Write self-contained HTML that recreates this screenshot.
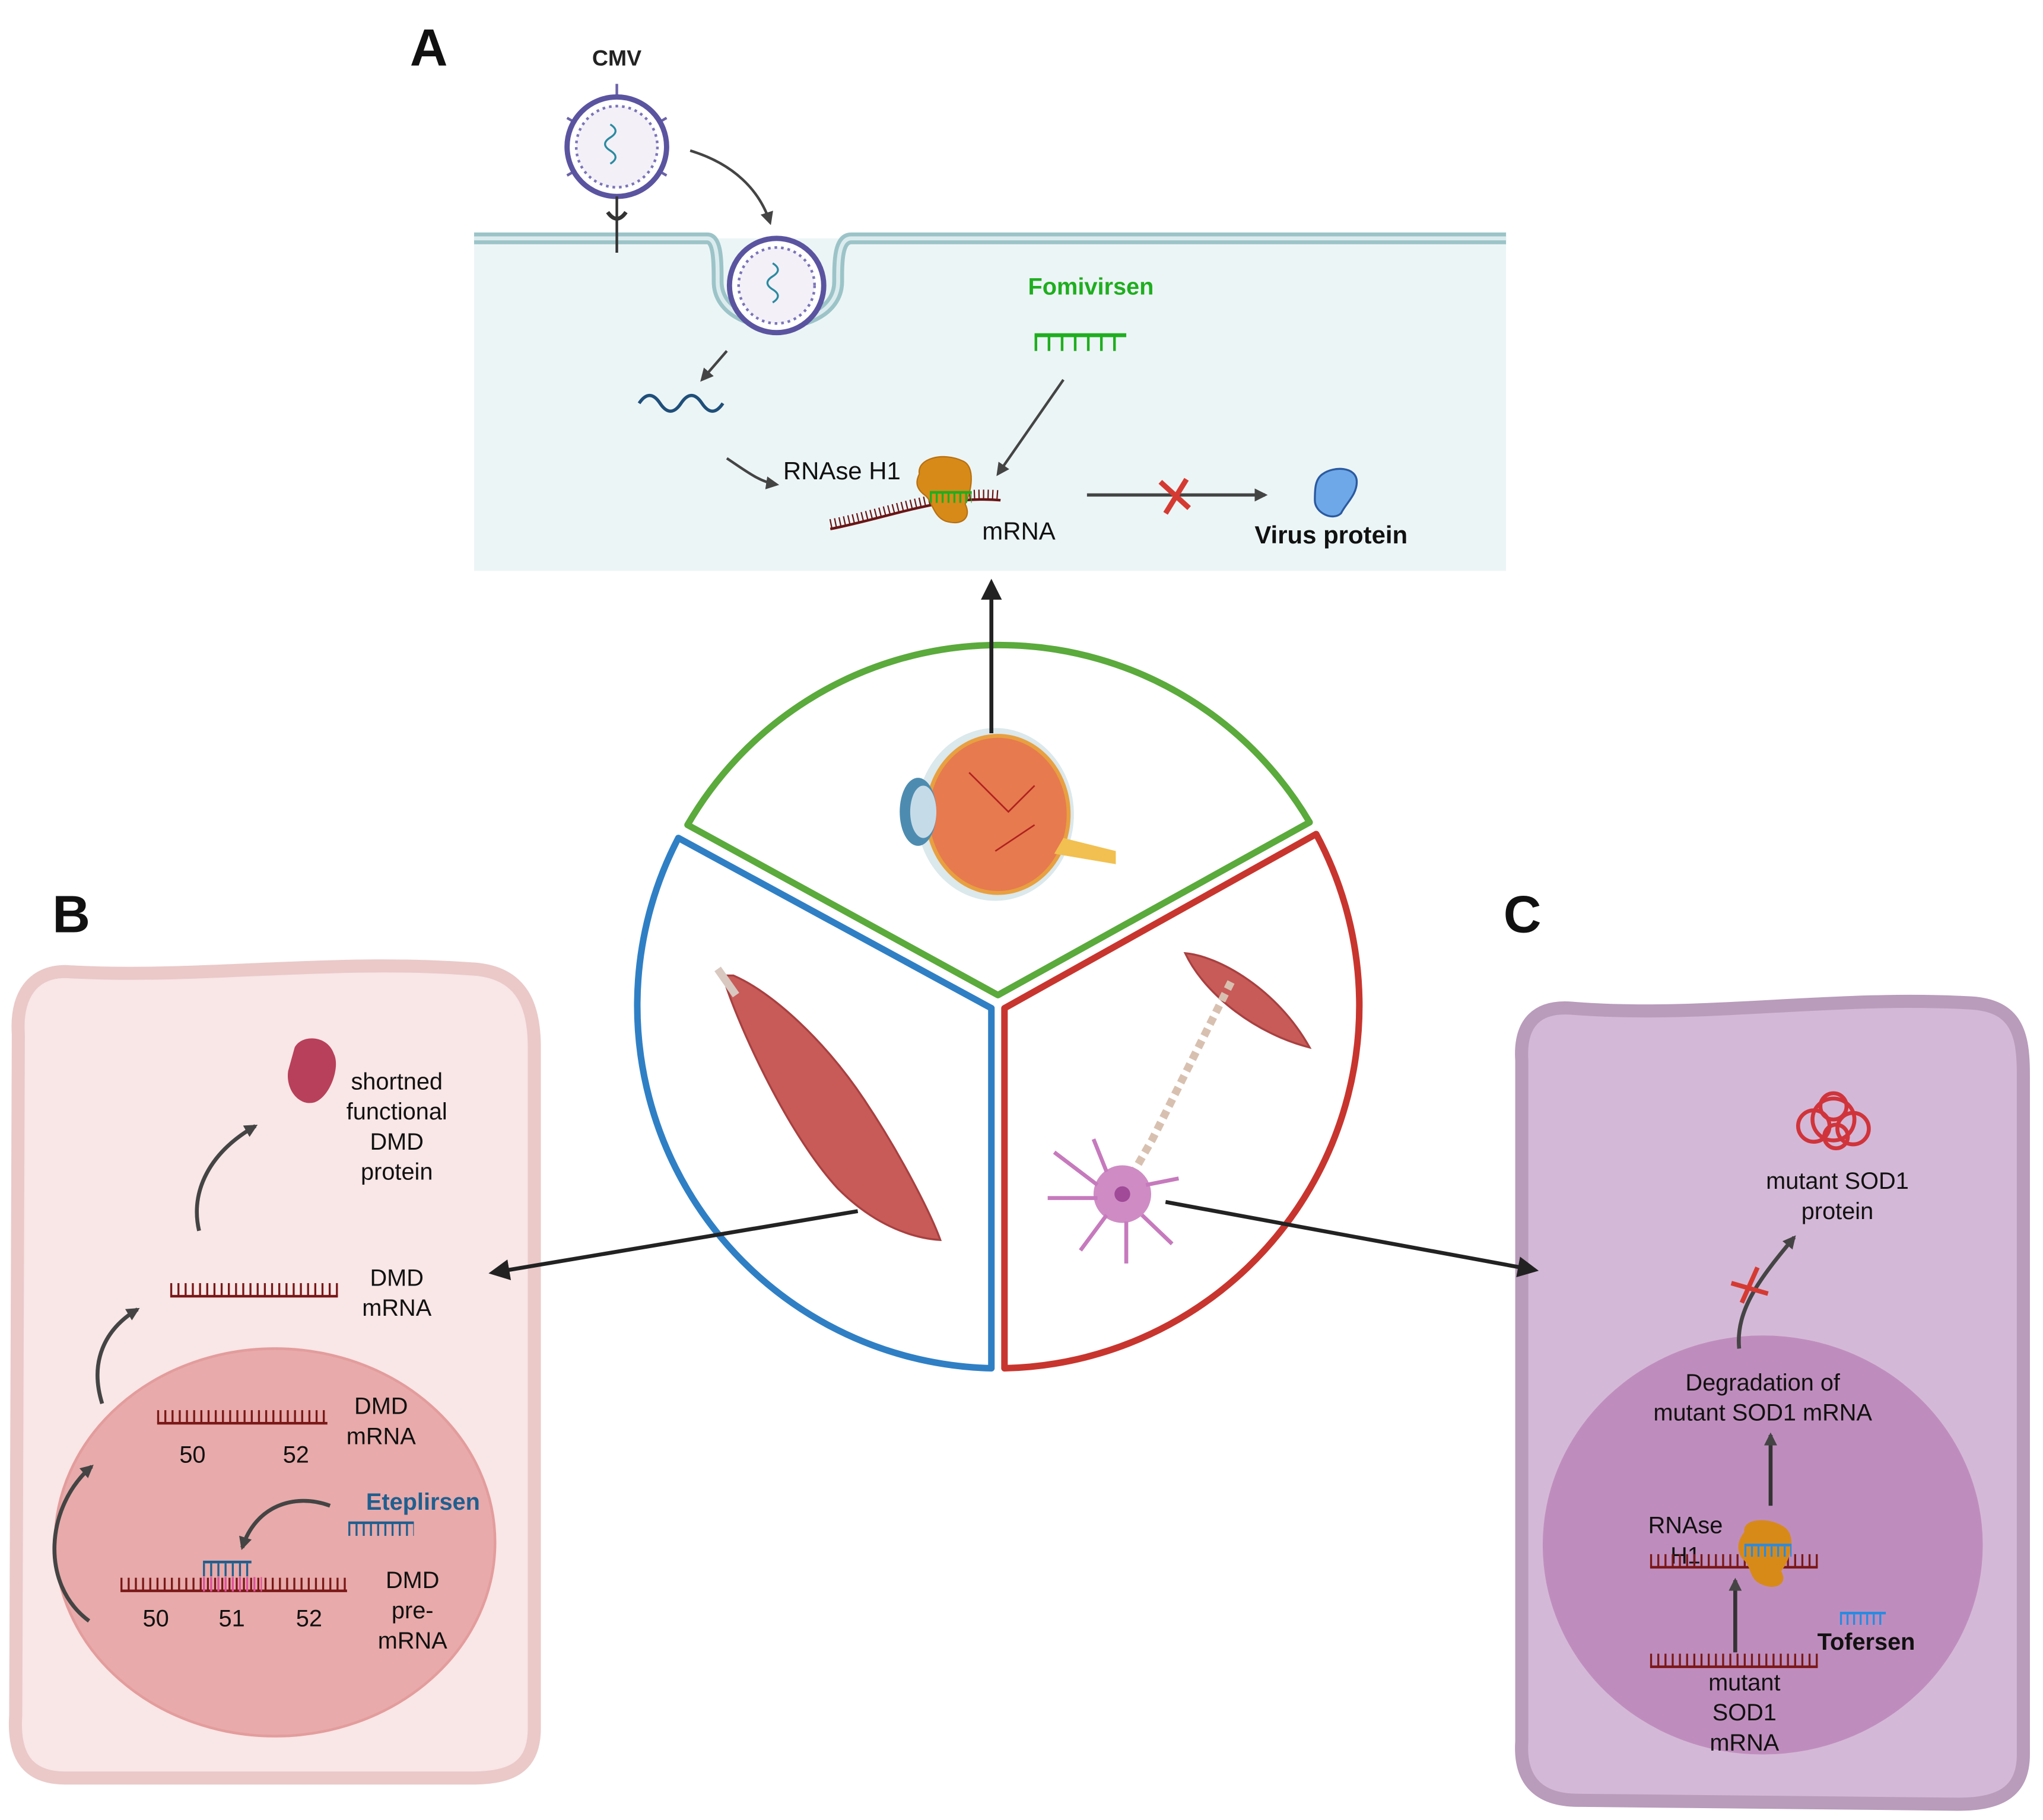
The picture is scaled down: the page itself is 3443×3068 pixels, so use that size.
<!DOCTYPE html>
<html><head><meta charset="utf-8"><style>
html,body{margin:0;padding:0;background:#fff}
svg{display:block}
text{font-family:"Liberation Sans",Arial,sans-serif}
</style></head><body>
<svg width="3443" height="3068" viewBox="0 0 1560 1390" xmlns="http://www.w3.org/2000/svg">
<defs>
<marker id="ahg" markerWidth="10" markerHeight="10" refX="8" refY="5" orient="auto" markerUnits="userSpaceOnUse"><path d="M0,0 L10,5 L0,10 z" fill="#444"/></marker>
<marker id="ahb" markerWidth="16" markerHeight="16" refX="13" refY="8" orient="auto" markerUnits="userSpaceOnUse"><path d="M0,0 L16,8 L0,16 z" fill="#222"/></marker>
</defs>

<!-- Panel A -->
<text x="313" y="50" font-size="40" font-weight="bold" fill="#111">A</text>
<rect x="362" y="182" width="788" height="254" fill="#ecf5f6"/>
<path d="M362,182 H540 C548,182 548,200 548,215 C548,258 640,258 640,215 C640,200 640,182 650,182 H1150" fill="none" stroke="#9cc4c8" stroke-width="9"/>
<path d="M362,182 H540 C548,182 548,200 548,215 C548,258 640,258 640,215 C640,200 640,182 650,182 H1150" fill="none" stroke="#dcecee" stroke-width="3"/>
<text x="471" y="50" font-size="17" font-weight="bold" text-anchor="middle" fill="#222">CMV</text>
<g stroke="#6a62a8" stroke-width="2">
<line x1="471" y1="64" x2="471" y2="150"/><line x1="433" y1="90" x2="509" y2="134"/><line x1="509" y1="90" x2="433" y2="134"/>
</g>
<circle cx="471" cy="112" r="38" fill="#fff" stroke="#5a54a0" stroke-width="4"/>
<circle cx="471" cy="112" r="31" fill="#f3f0f8" stroke="#7a74b8" stroke-width="2" stroke-dasharray="2 3"/>
<path d="M466,95 q8,5 0,10 q-8,5 0,10 q8,5 0,10" fill="none" stroke="#2a8aa0" stroke-width="1.5"/>
<line x1="471" y1="150" x2="471" y2="193" stroke="#333" stroke-width="2"/>
<path d="M464,162 q7,10 14,0" fill="none" stroke="#333" stroke-width="3"/>
<circle cx="593" cy="218" r="36" fill="#fff" stroke="#5a54a0" stroke-width="4"/>
<circle cx="593" cy="218" r="29" fill="#f3f0f8" stroke="#7a74b8" stroke-width="2" stroke-dasharray="2 3"/>
<path d="M590,201 q8,5 0,10 q-8,5 0,10 q8,5 0,10" fill="none" stroke="#2a8aa0" stroke-width="1.5"/>
<path d="M527,115 C560,125 580,145 588,170" fill="none" stroke="#444" stroke-width="2" marker-end="url(#ahg)"/>
<path d="M555,268 L536,290" fill="none" stroke="#444" stroke-width="2" marker-end="url(#ahg)"/>
<path d="M488,308 q8,-12 16,0 q8,12 16,0 q8,-12 16,0 q8,12 16,0" fill="none" stroke="#1f4f7a" stroke-width="2.5"/>
<path d="M555,350 C570,360 580,368 593,370" fill="none" stroke="#444" stroke-width="2" marker-end="url(#ahg)"/>
<text x="598" y="366" font-size="19" fill="#111">RNAse H1</text>
<text x="750" y="412" font-size="19" fill="#111">mRNA</text>
<text x="833" y="225" font-size="18" font-weight="bold" text-anchor="middle" fill="#1fae1f">Fomivirsen</text>
<line x1="790" y1="256" x2="860" y2="256" stroke="#1fae1f" stroke-width="3"/>
<line x1="790" y1="262" x2="860" y2="262" stroke="#1fae1f" stroke-width="12" stroke-dasharray="2 8"/>
<line x1="812" y1="290" x2="762" y2="362" stroke="#444" stroke-width="2" marker-end="url(#ahg)"/>
<path d="M634,404 C680,395 720,378 764,382" fill="none" stroke="#6a1414" stroke-width="2"/>
<path d="M634,400 C680,391 720,374 764,378" fill="none" stroke="#6a1414" stroke-width="7" stroke-dasharray="1 2.5"/>
<path d="M702,362 C700,350 720,345 735,352 C745,356 742,375 737,385 C742,395 735,402 722,398 C712,394 712,382 706,378 C698,372 700,366 702,362 z" fill="#d88a18" stroke="#b87010" stroke-width="1"/>
<line x1="710" y1="376" x2="742" y2="376" stroke="#1fae1f" stroke-width="2"/>
<line x1="710" y1="380" x2="742" y2="380" stroke="#1fae1f" stroke-width="8" stroke-dasharray="1.5 3"/>
<line x1="830" y1="378" x2="966" y2="378" stroke="#444" stroke-width="2.5" marker-end="url(#ahg)"/>
<path d="M886,368 L908,388 M906,366 L890,392" stroke="#d53a32" stroke-width="4"/>
<path d="M1010,362 C1018,356 1036,356 1036,368 C1036,378 1028,384 1024,392 C1018,398 1004,392 1004,382 C1004,374 1004,366 1010,362 z" fill="#6ea8e8" stroke="#2a5aa0" stroke-width="1.5"/>
<text x="958" y="415" font-size="19" font-weight="bold" fill="#111">Virus protein</text>

<!-- Center circle -->
<path d="M525,630 A275,275 0 0 1 1000,628 L762,760 Z" fill="none" stroke="#5aaa3c" stroke-width="5" stroke-linejoin="round"/>
<path d="M518,640 L757,770 L757,1045 A277,277 0 0 1 518,640 Z" fill="none" stroke="#2f7fc5" stroke-width="5" stroke-linejoin="round"/>
<path d="M1005,637 L767,770 L767,1045 A277,277 0 0 0 1005,637 Z" fill="none" stroke="#c8352e" stroke-width="5" stroke-linejoin="round"/>
<!-- eye -->
<ellipse cx="760" cy="622" rx="60" ry="66" fill="#dbe8ec"/>
<ellipse cx="762" cy="622" rx="54" ry="60" fill="#e77a4e" stroke="#e8a040" stroke-width="3"/>
<path d="M812,640 L852,650 L852,660 L805,652 Z" fill="#f2c050"/>
<ellipse cx="701" cy="620" rx="14" ry="26" fill="#4d8cb0"/>
<ellipse cx="705" cy="620" rx="10" ry="20" fill="#c6dbe8"/>
<path d="M740,590 l30,30 l20,-20 M760,650 l30,-20" stroke="#b02020" stroke-width="1.2" fill="none"/>
<line x1="757" y1="560" x2="757" y2="445" stroke="#222" stroke-width="3" marker-end="url(#ahb)"/>
<!-- muscle -->
<path d="M552,745 C560,775 600,865 640,908 C670,938 700,946 718,947 C712,930 690,885 660,840 C630,795 590,758 560,745 Z" fill="#c85a58" stroke="#a84040" stroke-width="1.5"/>
<path d="M548,740 L562,760" stroke="#d8c8c0" stroke-width="6"/>
<!-- neuron & muscle -->
<path d="M905,728 C930,730 975,755 1000,800 C960,790 920,760 905,728 Z" fill="#c85a58" stroke="#a84040" stroke-width="1.5"/>
<path d="M940,750 L920,790 L900,830 L880,870 L860,905" stroke="#d8c0b0" stroke-width="6" fill="none" stroke-dasharray="6 4"/>
<circle cx="857" cy="912" r="22" fill="#cf8cc4"/>
<circle cx="857" cy="912" r="6" fill="#a04a98"/>
<g stroke="#c67abd" stroke-width="3" fill="none">
<path d="M838,905 L805,880 M838,915 L800,915 M845,928 L825,955 M860,933 L860,965 M872,928 L895,950 M875,905 L900,900 M845,895 L835,870"/>
</g>

<!-- Panel B -->
<text x="40" y="712" font-size="40" font-weight="bold" fill="#111">B</text>
<path d="M50,742 C150,748 250,732 360,740 C400,742 408,770 408,800 L408,1320 C408,1350 390,1358 360,1358 L50,1358 C20,1358 10,1340 12,1310 L14,790 C12,760 25,742 50,742 Z" fill="#f9e6e6" stroke="#ebc9c9" stroke-width="10"/>
<ellipse cx="210" cy="1178" rx="168" ry="148" fill="#e8aaaa" stroke="#e39c9c" stroke-width="2"/>
<path d="M225,800 C230,790 250,790 255,805 C260,815 252,838 240,842 C228,845 218,832 220,818 Z" fill="#b8405a"/>
<text x="303" y="832" font-size="18" text-anchor="middle" fill="#111">shortned</text>
<text x="303" y="855" font-size="18" text-anchor="middle" fill="#111">functional</text>
<text x="303" y="878" font-size="18" text-anchor="middle" fill="#111">DMD</text>
<text x="303" y="901" font-size="18" text-anchor="middle" fill="#111">protein</text>
<path d="M152,940 C145,910 160,880 195,860" fill="none" stroke="#444" stroke-width="3" marker-end="url(#ahg)"/>
<line x1="130" y1="990" x2="258" y2="990" stroke="#7a1818" stroke-width="2"/>
<line x1="130" y1="985" x2="258" y2="985" stroke="#7a1818" stroke-width="10" stroke-dasharray="1.5 4"/>
<text x="303" y="982" font-size="18" text-anchor="middle" fill="#111">DMD</text>
<text x="303" y="1005" font-size="18" text-anchor="middle" fill="#111">mRNA</text>
<path d="M78,1072 C68,1040 80,1015 105,1000" fill="none" stroke="#444" stroke-width="3" marker-end="url(#ahg)"/>
<line x1="120" y1="1087" x2="250" y2="1087" stroke="#7a1818" stroke-width="2"/>
<line x1="120" y1="1082" x2="250" y2="1082" stroke="#7a1818" stroke-width="10" stroke-dasharray="1.5 4"/>
<text x="147" y="1117" font-size="18" text-anchor="middle" fill="#111">50</text>
<text x="226" y="1117" font-size="18" text-anchor="middle" fill="#111">52</text>
<text x="291" y="1080" font-size="18" text-anchor="middle" fill="#111">DMD</text>
<text x="291" y="1103" font-size="18" text-anchor="middle" fill="#111">mRNA</text>
<path d="M68,1238 C30,1210 35,1150 70,1120" fill="none" stroke="#444" stroke-width="3" marker-end="url(#ahg)"/>
<text x="323" y="1153" font-size="18" font-weight="bold" text-anchor="middle" fill="#1f5f8f">Eteplirsen</text>
<line x1="266" y1="1163" x2="316" y2="1163" stroke="#1f5f8f" stroke-width="2"/>
<line x1="266" y1="1168" x2="316" y2="1168" stroke="#1f5f8f" stroke-width="10" stroke-dasharray="1.5 4"/>
<path d="M252,1150 C225,1140 195,1150 185,1182" fill="none" stroke="#444" stroke-width="3" marker-end="url(#ahg)"/>
<line x1="155" y1="1193" x2="192" y2="1193" stroke="#1f5f8f" stroke-width="2"/>
<line x1="155" y1="1199" x2="192" y2="1199" stroke="#1f5f8f" stroke-width="10" stroke-dasharray="1.5 4"/>
<line x1="92" y1="1215" x2="265" y2="1215" stroke="#7a1818" stroke-width="2"/>
<line x1="92" y1="1210" x2="265" y2="1210" stroke="#7a1818" stroke-width="10" stroke-dasharray="1.5 4"/>
<line x1="155" y1="1210" x2="200" y2="1210" stroke="#e0509a" stroke-width="11" stroke-dasharray="1.5 4"/>
<text x="119" y="1242" font-size="18" text-anchor="middle" fill="#111">50</text>
<text x="177" y="1242" font-size="18" text-anchor="middle" fill="#111">51</text>
<text x="236" y="1242" font-size="18" text-anchor="middle" fill="#111">52</text>
<text x="315" y="1213" font-size="18" text-anchor="middle" fill="#111">DMD</text>
<text x="315" y="1236" font-size="18" text-anchor="middle" fill="#111">pre-</text>
<text x="315" y="1259" font-size="18" text-anchor="middle" fill="#111">mRNA</text>

<!-- Panel C -->
<text x="1148" y="712" font-size="40" font-weight="bold" fill="#111">C</text>
<path d="M1200,770 C1300,778 1400,760 1505,766 C1540,768 1545,790 1545,820 L1545,1340 C1545,1370 1525,1378 1495,1378 L1205,1375 C1175,1375 1160,1360 1162,1330 L1162,810 C1160,780 1175,768 1200,770 Z" fill="#d4b8d7" stroke="#b99bbb" stroke-width="10"/>
<ellipse cx="1346" cy="1180" rx="168" ry="160" fill="#bf8dbd"/>
<g fill="none" stroke="#d0343a" stroke-width="3">
<circle cx="1400" cy="855" r="16"/><circle cx="1385" cy="860" r="12"/><circle cx="1415" cy="862" r="12"/><circle cx="1400" cy="845" r="10"/><circle cx="1402" cy="868" r="9"/>
</g>
<text x="1403" y="908" font-size="18" text-anchor="middle" fill="#111">mutant SOD1</text>
<text x="1403" y="931" font-size="18" text-anchor="middle" fill="#111">protein</text>
<path d="M1328,1030 C1325,1000 1345,975 1370,945" fill="none" stroke="#444" stroke-width="3" marker-end="url(#ahg)"/>
<path d="M1322,980 L1350,988 M1330,995 L1342,968" stroke="#d53a32" stroke-width="3.5"/>
<text x="1346" y="1062" font-size="18" text-anchor="middle" fill="#111">Degradation of</text>
<text x="1346" y="1085" font-size="18" text-anchor="middle" fill="#111">mutant SOD1 mRNA</text>
<line x1="1352" y1="1150" x2="1352" y2="1096" stroke="#333" stroke-width="3" marker-end="url(#ahg)"/>
<text x="1287" y="1171" font-size="18" text-anchor="middle" fill="#111">RNAse</text>
<text x="1287" y="1194" font-size="18" text-anchor="middle" fill="#111">H1</text>
<line x1="1260" y1="1197" x2="1388" y2="1197" stroke="#7a1818" stroke-width="2"/>
<line x1="1260" y1="1192" x2="1388" y2="1192" stroke="#7a1818" stroke-width="10" stroke-dasharray="1.5 4"/>
<path d="M1332,1170 C1330,1160 1350,1158 1362,1166 C1372,1172 1368,1190 1360,1200 C1366,1210 1355,1215 1345,1210 C1335,1206 1338,1196 1330,1190 C1325,1182 1328,1175 1332,1170 Z" fill="#d88a18"/>
<line x1="1332" y1="1180" x2="1368" y2="1180" stroke="#2a8ae0" stroke-width="2"/>
<line x1="1332" y1="1185" x2="1368" y2="1185" stroke="#2a8ae0" stroke-width="8" stroke-dasharray="1.5 3.5"/>
<line x1="1325" y1="1262" x2="1325" y2="1207" stroke="#333" stroke-width="3" marker-end="url(#ahg)"/>
<line x1="1405" y1="1232" x2="1440" y2="1232" stroke="#2a8ae0" stroke-width="2"/>
<line x1="1405" y1="1237" x2="1440" y2="1237" stroke="#2a8ae0" stroke-width="8" stroke-dasharray="1.5 3.5"/>
<text x="1425" y="1260" font-size="18" font-weight="bold" text-anchor="middle" fill="#111">Tofersen</text>
<line x1="1260" y1="1273" x2="1388" y2="1273" stroke="#7a1818" stroke-width="2"/>
<line x1="1260" y1="1268" x2="1388" y2="1268" stroke="#7a1818" stroke-width="10" stroke-dasharray="1.5 4"/>
<text x="1332" y="1291" font-size="18" text-anchor="middle" fill="#111">mutant</text>
<text x="1332" y="1314" font-size="18" text-anchor="middle" fill="#111">SOD1</text>
<text x="1332" y="1337" font-size="18" text-anchor="middle" fill="#111">mRNA</text>

<!-- connectors on top -->
<line x1="655" y1="925" x2="376" y2="972" stroke="#222" stroke-width="3" marker-end="url(#ahb)"/>
<line x1="890" y1="918" x2="1172" y2="970" stroke="#222" stroke-width="3" marker-end="url(#ahb)"/>
</svg>
</body></html>
